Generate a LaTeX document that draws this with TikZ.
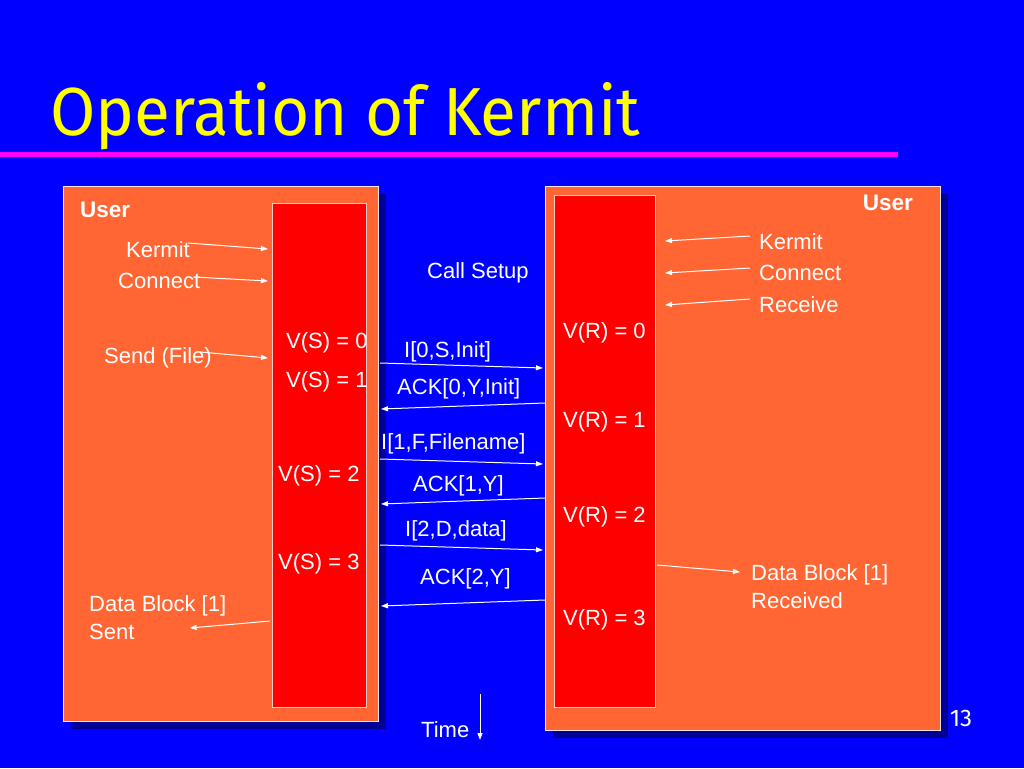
\documentclass[tikz,border=0pt]{standalone}
\usepackage{fontspec}
\setmainfont{Liberation Sans}
\newfontfamily\titlefont{Fira Sans}
\usetikzlibrary{arrows.meta,calc}
\definecolor{slideblue}{RGB}{0,0,255}
\definecolor{shadownavy}{RGB}{0,0,150}
\definecolor{panelorange}{RGB}{255,102,51}
\definecolor{statered}{RGB}{255,0,0}
\definecolor{rulemagenta}{RGB}{255,0,255}
\definecolor{titleyellow}{RGB}{255,255,0}
\tikzstyle{panel} = [rectangle, fill=panelorange, draw=white!85!panelorange, line width=1pt, inner sep=0pt, outer sep=0pt, anchor=north west]
\tikzstyle{statebar} = [rectangle, fill=statered, draw=white!80!statered, line width=1pt, inner sep=0pt, outer sep=0pt, anchor=north west]
\tikzstyle{lbl} = [text=white, font=\fontsize{22}{28}\selectfont, inner sep=0pt, anchor=west, align=left]
\tikzstyle{userlbl} = [text=white, font=\bfseries\fontsize{22.5}{28}\selectfont, inner sep=0pt]
\tikzstyle{msg} = [white, line width=1pt, -{Triangle[length=7pt,width=5pt]}]

\begin{document}
\begin{tikzpicture}[x=1pt, y=-1pt]

\useasboundingbox (0,0) rectangle (1024,768);
\fill[slideblue] (0,0) rectangle (1024,768);

% title and rule
\node(title)   [anchor=base west, inner sep=0pt, text=titleyellow, font=\titlefont\fontsize{68}{72}\selectfont] at (50,135) {\scalebox{0.965}[1]{Operation of Kermit}};
\fill[rulemagenta] (0,152) rectangle (898,157);

% panels with shadows
\fill[shadownavy] (71,194) rectangle (386,729);
\fill[shadownavy] (553,194) rectangle (948,738);
\node(lpanel)  [panel, minimum width=315, minimum height=535] at (63,186) {};
\node(rpanel)  [panel, minimum width=395, minimum height=544] at (545,186) {};
\node(lbar)    [statebar, minimum width=94, minimum height=504] at (272,203) {};
\node(rbar)    [statebar, minimum width=101, minimum height=512] at (554,195) {};

% sender side
\node(userL)    [userlbl, anchor=west] at (80,210)  {User};
\node(kermitL)  [lbl] at (126,250) {Kermit};
\node(connectL) [lbl] at (118,281) {Connect};
\node(sendL)    [lbl] at (104,358) {Send (File)};
\node(dataL)    [lbl] at (89,618)  {Data Block [1]\\Sent};
\node(vs0)      [lbl] at (286,343) {V(S) = 0};
\node(vs1)      [lbl] at (286,382) {V(S) = 1};
\node(vs2)      [lbl] at (278,476) {V(S) = 2};
\node(vs3)      [lbl] at (278,564) {V(S) = 3};

% receiver side
\node(userR)    [userlbl, anchor=east] at (913,203) {User};
\node(kermitR)  [lbl] at (759,242) {Kermit};
\node(connectR) [lbl] at (759,273) {Connect};
\node(receiveR) [lbl] at (759,305) {Receive};
\node(dataR)    [lbl] at (751,587) {Data Block [1]\\Received};
\node(vr0)      [lbl] at (563,333) {V(R) = 0};
\node(vr1)      [lbl] at (563,422) {V(R) = 1};
\node(vr2)      [lbl] at (563,517) {V(R) = 2};
\node(vr3)      [lbl] at (563,620) {V(R) = 3};

% frames in between
\node(callsetup) [lbl] at (427,273) {Call Setup};
\node(imsg0)     [lbl] at (404,352) {I[0,S,Init]};
\node(ack0)      [lbl] at (397,389) {ACK[0,Y,Init]};
\node(imsg1)     [lbl] at (381,444) {I[1,F,Filename]};
\node(ack1)      [lbl] at (413,486) {ACK[1,Y]};
\node(imsg2)     [lbl] at (405,531) {I[2,D,data]};
\node(ack2)      [lbl] at (420,579) {ACK[2,Y]};

% time axis
\node(time)      [lbl] at (421,730) {Time};
\coordinate (timetop) at (480,694);
\coordinate (timeend) at (480,740);
\node(pageno)    [text=white, inner sep=0pt, font=\titlefont\fontsize{24}{26}\selectfont] at (961,718) {13};

\draw [msg] ($(kermitL.east)+(-2,-7)$)  -- ($(lbar.west |- kermitL.east)+(-4,-1)$);
\draw [msg] ($(connectL.east)+(-7,-4)$) -- ($(lbar.west |- connectL.east)+(-4,0)$);
\draw [msg] ($(sendL.east)+(-12,-6)$)   -- ($(lbar.west |- sendL.east)+(-4,0)$);
\draw [msg] ($(lbar.west |- dataL.center)+(-2,3)$) -- ($(dataL.center)+(32,10)$);

\draw [msg] ($(kermitR.west)+(-9,-6)$)  -- ($(rbar.east |- kermitR.west)+(10,-1)$);
\draw [msg] ($(connectR.west)+(-9,-5)$) -- ($(rbar.east |- connectR.west)+(10,0)$);
\draw [msg] ($(receiveR.west)+(-9,-6)$) -- ($(rbar.east |- receiveR.west)+(10,0)$);
\draw [msg] ($(rbar.east |- dataR.center)+(2,-22)$) -- ($(dataR.west)+(-11,-15)$);

\draw [msg] ($(lpanel.east |- imsg0)+(2,11)$) -- ($(rpanel.west |- imsg0)+(-2,16)$);
\draw [msg] ($(rpanel.west |- ack0)+(0,14)$)  -- ($(lpanel.east |- ack0)+(3,20)$);
\draw [msg] ($(lpanel.east |- imsg1)+(2,15)$) -- ($(rpanel.west |- imsg1)+(-2,20)$);
\draw [msg] ($(rpanel.west |- ack1)+(0,12)$)  -- ($(lpanel.east |- ack1)+(3,18)$);
\draw [msg] ($(lpanel.east |- imsg2)+(2,14)$) -- ($(rpanel.west |- imsg2)+(-2,19)$);
\draw [msg] ($(rpanel.west |- ack2)+(0,21)$)  -- ($(lpanel.east |- ack2)+(3,27)$);

\draw [msg] (timetop) -- (timeend);

\end{tikzpicture}
\end{document}
